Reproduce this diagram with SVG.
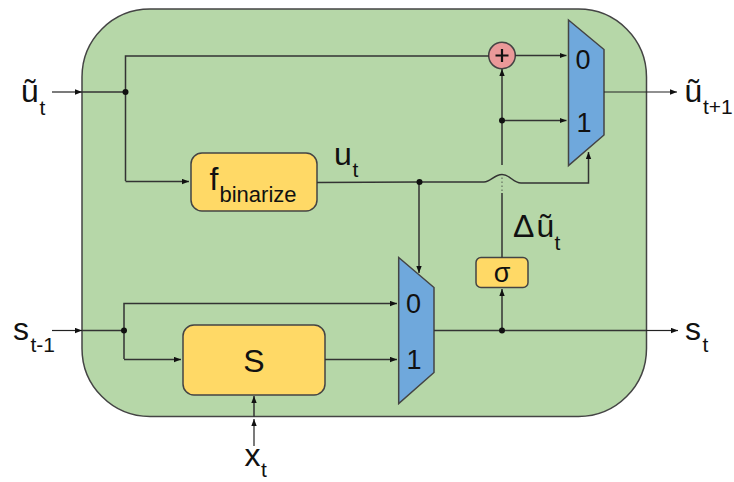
<svg xmlns="http://www.w3.org/2000/svg" width="734" height="482" viewBox="0 0 734 482">
<style>
text{font-family:"Liberation Sans",Arial,sans-serif;fill:#111}
.l{font-size:32px}.s{font-size:21px}.d{font-size:27px}
.c{fill:none;stroke:#333;stroke-width:1.500}
.t{fill:none;stroke:#222;stroke-width:1.200}
.n{fill:#ffd966;stroke:#444;stroke-width:1.500}
.m{fill:#6fa8dc;stroke:#444;stroke-width:1.500}
.j{fill:#111}
</style>
<defs>
<marker id="a" viewBox="0 0 7 6" refX="7" refY="3" markerWidth="7" markerHeight="6" markerUnits="userSpaceOnUse" orient="auto"><path d="M0 0.300L7 3L0 5.700Z" fill="#111"/></marker>
</defs>
<rect id="frame" x="82" y="9" width="564.500" height="407.500" rx="68" ry="68" fill="#b6d7a8" stroke="#444" stroke-width="1.500"/>
<g id="binarize"><rect class="n" x="191" y="153" width="126" height="58" rx="11"/><text x="209.500" y="189.500" class="l">f</text><text x="219.500" y="202" style="font-size:22px">binarize</text></g>
<g id="s-block"><rect class="n" x="183" y="325" width="142" height="70" rx="11"/><text x="254" y="371.500" class="l" text-anchor="middle">S</text></g>
<g id="sigma"><rect class="n" x="476" y="257.500" width="52" height="30" rx="5"/><text x="502" y="281.500" class="d" text-anchor="middle">σ</text></g>
<g id="plus"><circle cx="502" cy="55.500" r="13.300" fill="#ea9999" stroke="#444" stroke-width="1.500"/><path d="M495.500 55.500H508.500M502 49V62" stroke="#111" stroke-width="2.200" fill="none"/></g>
<g id="mux-top"><path class="m" d="M568.500 20L604 49.500V135L568.500 165.500Z"/><text x="583" y="69" class="d" text-anchor="middle">0</text><text x="584" y="131.500" class="d" text-anchor="middle">1</text></g>
<g id="mux-bottom"><path class="m" d="M398.700 257.500L434 287.500V372.500L398.700 403.500Z"/><text x="413.500" y="312.500" class="d" text-anchor="middle">0</text><text x="414" y="369" class="d" text-anchor="middle">1</text></g>
<g id="connectors">
<path class="t" d="M52 92H82" marker-end="url(#a)"/>
<path class="c" d="M82 92H125.500"/>
<path class="c" d="M125.500 181V56H489" />
<path class="c" d="M125.500 181.500H189" marker-end="url(#a)"/>
<path class="c" d="M515 55.500H566.500" marker-end="url(#a)"/>
<path class="c" d="M502 120.500H566.500" marker-end="url(#a)"/>
<path class="c" d="M502 165V69" marker-end="url(#a)"/>
<path class="c" d="M502 191V175" stroke-dasharray="1.500 2.500" stroke-opacity="0.500"/>
<path class="c" d="M502 257.500V193"/>
<path class="c" d="M317 182.500L418 182H484C491 182 494 174.500 502 174.500C510 174.500 513 183 521 183H588.500V152" marker-end="url(#a)"/>
<path class="c" d="M419 182V273" marker-end="url(#a)"/>
<path class="t" d="M604 92H677" marker-end="url(#a)"/>
<path class="t" d="M52 330.500H82" marker-end="url(#a)"/>
<path class="c" d="M82 330.500H124"/>
<path class="c" d="M124 359V303.500H397" marker-end="url(#a)"/>
<path class="c" d="M124 359.500H181" marker-end="url(#a)"/>
<path class="c" d="M325 359.500H397" marker-end="url(#a)"/>
<path class="c" d="M434 330.500H646"/>
<path class="t" d="M646 330.500H678" marker-end="url(#a)"/>
<path class="c" d="M502 330V289" marker-end="url(#a)"/>
<path class="t" d="M254 446V419" marker-end="url(#a)"/>
<path class="c" d="M254 417V396" marker-end="url(#a)"/>
<circle class="j" cx="125.500" cy="92" r="3"/>
<circle class="j" cx="124" cy="330.500" r="3"/>
<circle class="j" cx="502" cy="120.500" r="3"/>
<circle class="j" cx="419.500" cy="182" r="3"/>
<circle class="j" cx="502" cy="330.500" r="3"/>
</g>
<g id="labels">
<text x="21" y="102" class="l">ũ</text><text x="39.500" y="115" class="s">t</text>
<text x="684.500" y="102" class="l">ũ</text><text x="703" y="114" class="s">t+1</text>
<text x="334" y="165" class="l">u</text><text x="352.500" y="177" class="s">t</text>
<text x="513" y="237" class="l">Δ<tspan dx="2">ũ</tspan></text><text x="554.500" y="250" class="s">t</text>
<text x="13" y="340" class="l">s</text><text x="30.500" y="351.500" class="s">t-1</text>
<text x="685" y="340" class="l">s</text><text x="702.500" y="351.500" class="s">t</text>
<text x="244.500" y="466" class="l">x</text><text x="261" y="477" class="s">t</text>
</g>
</svg>
